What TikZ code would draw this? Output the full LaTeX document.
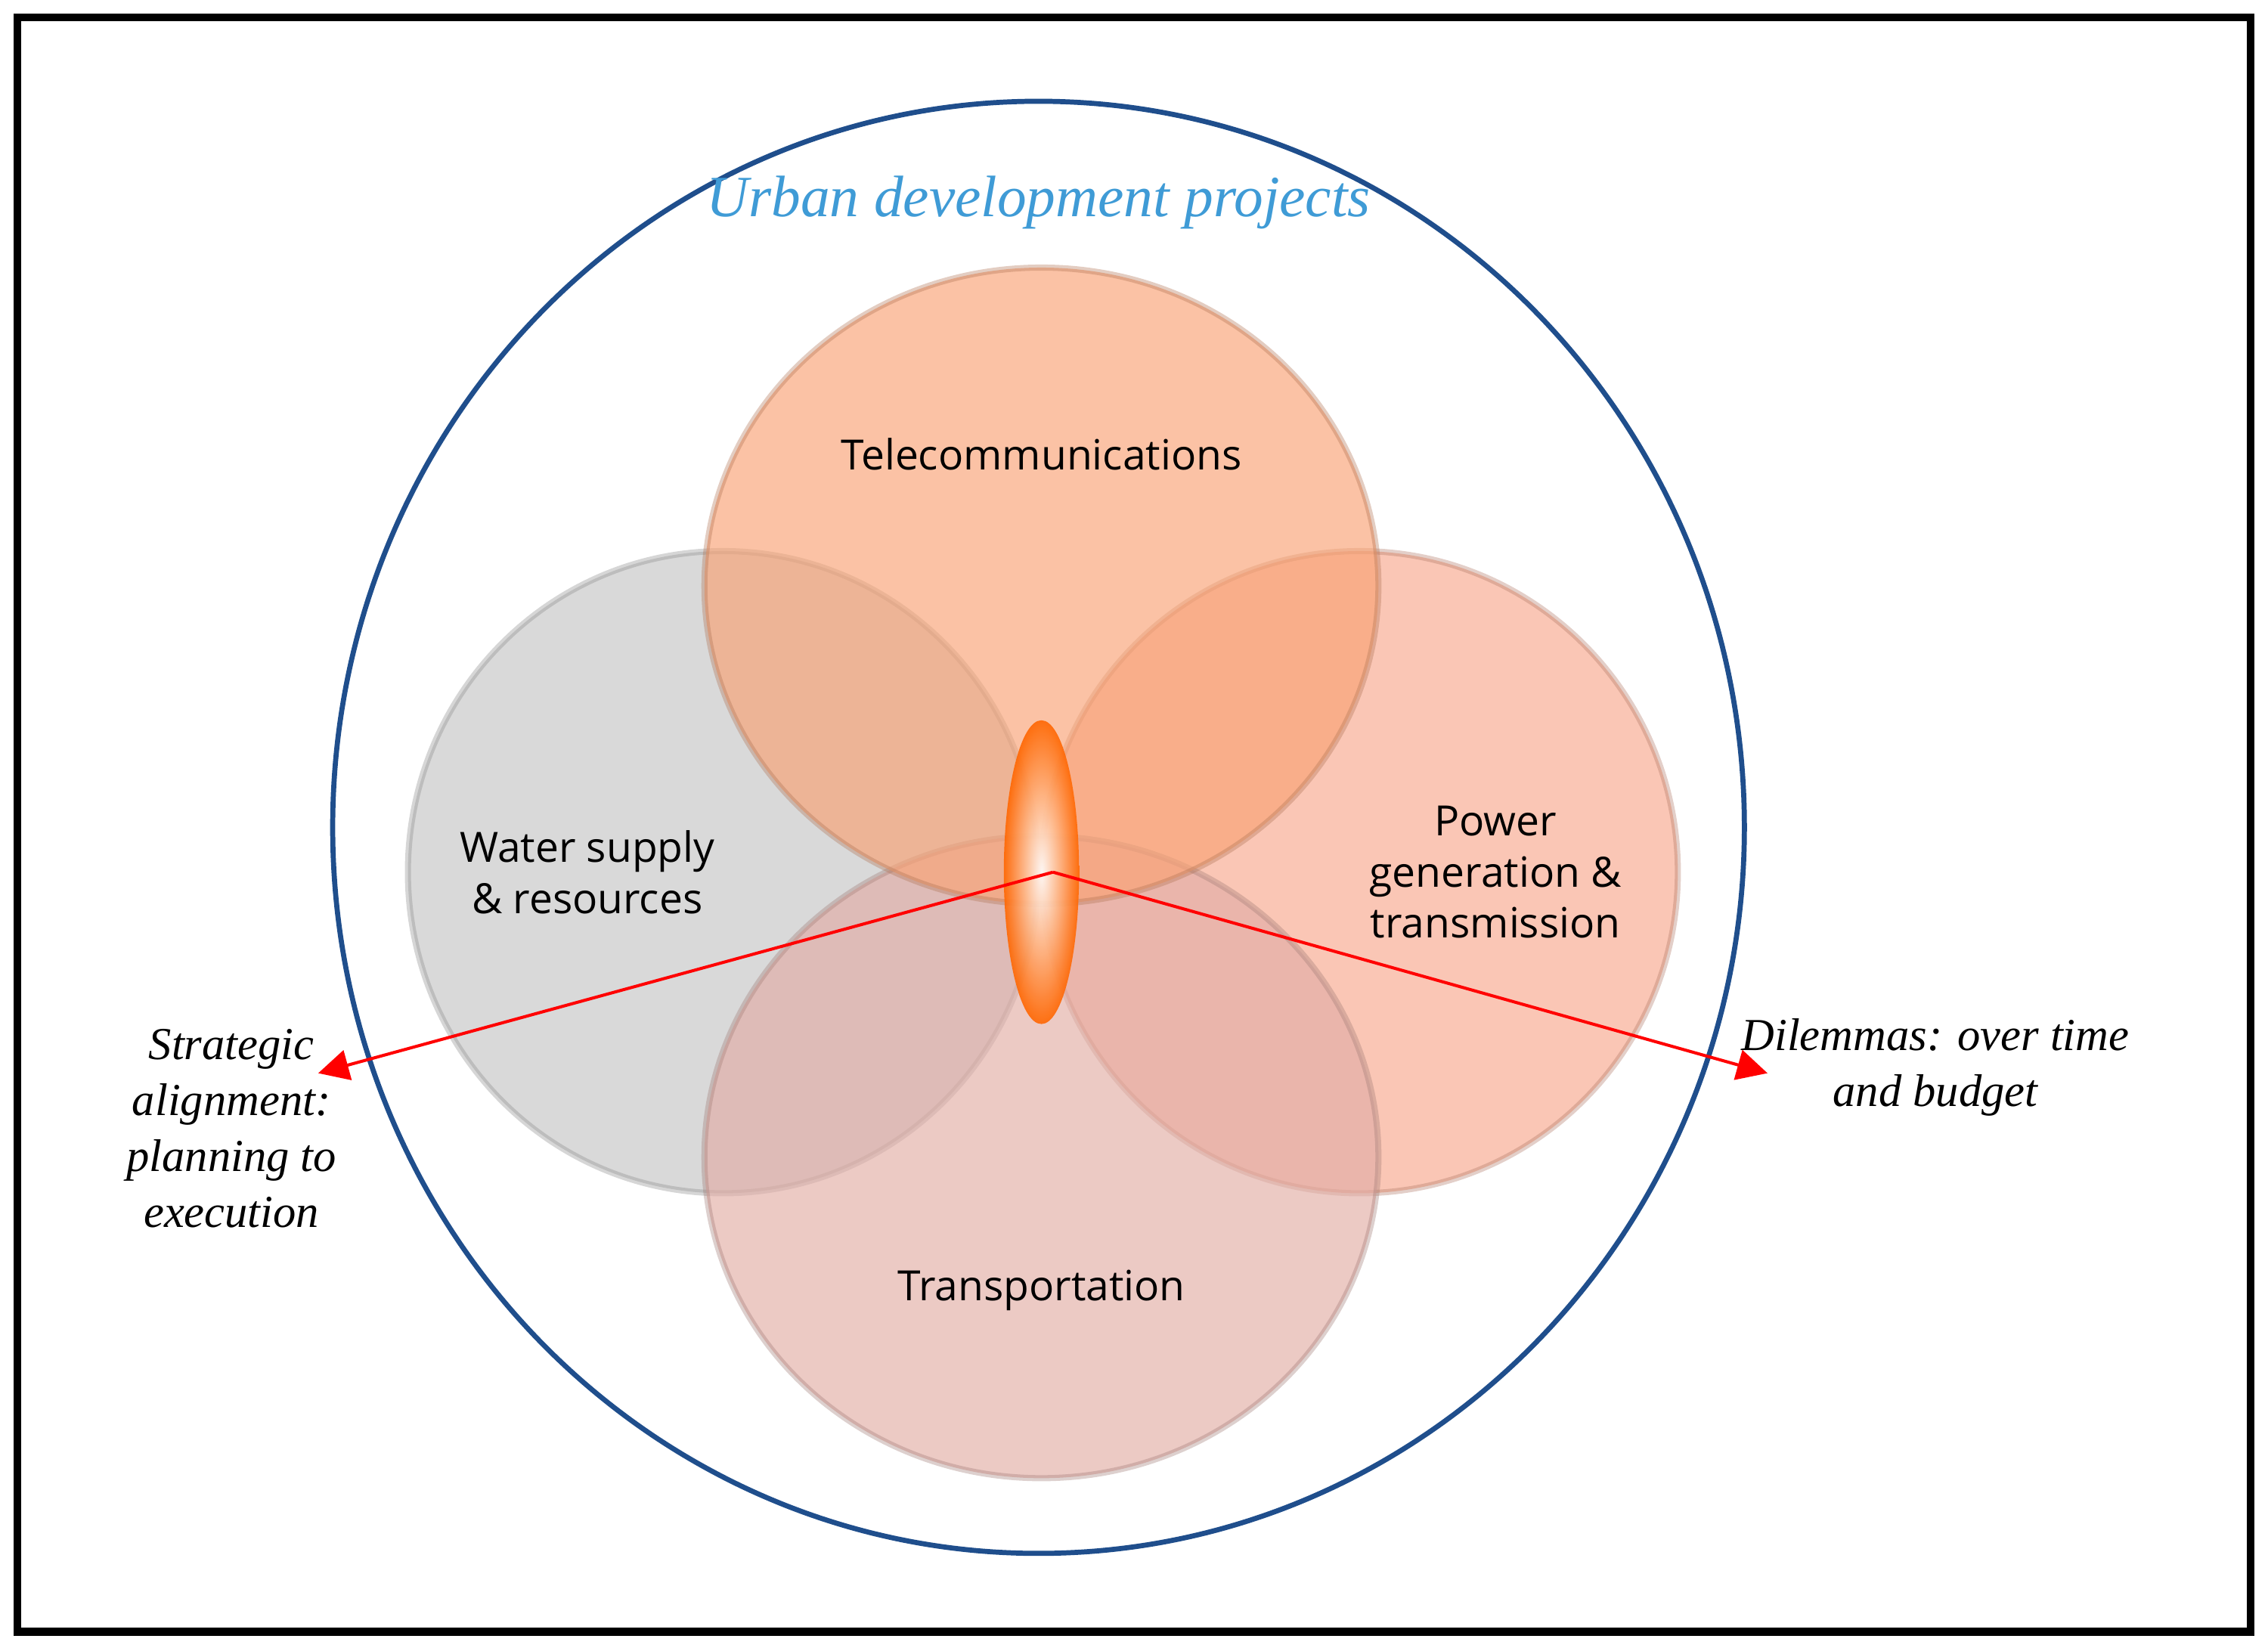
\documentclass[tikz,border=0pt]{standalone}
\usepackage{fontspec}
\setmainfont{Liberation Serif}
\newfontfamily\lblfont{Open Sans}
\usetikzlibrary{positioning}
\usetikzlibrary{arrows.meta}
\definecolor{telecomc}{HTML}{F9A274}
\definecolor{waterc}{HTML}{C4C4C4}
\definecolor{powerc}{HTML}{F8A88E}
\definecolor{transc}{HTML}{E2ADA5}
\definecolor{titlec}{HTML}{3F9BD6}
\definecolor{ringc}{HTML}{1F4E8C}
\tikzset{
  venn/.style = {draw=#1!70!black,draw opacity=0.35,line width=1.2pt,fill=#1,fill opacity=0.65,text opacity=1},
  lbl/.style = {font=\lblfont\fontsize{8.2}{10}\selectfont,align=center,text=black},
  note/.style = {font=\itshape\fontsize{9}{11}\selectfont,align=center},
  arrow/.style = {red,line width=0.6pt,-{Triangle[length=6pt,width=6pt]}}
}
\begin{document}
\begin{tikzpicture}[x=0.01cm,y=-0.01cm]
 \useasboundingbox (0,0) rectangle (1568,1139);
 \draw[line width=1.6pt] (12,12) rectangle (1556,1128);
 \draw[ringc,line width=1pt] (718,572) ellipse [x radius=488,y radius=502];
 \node[font=\itshape\fontsize{11.5}{13}\selectfont,text=titlec] (title) at (718,140) {Urban development projects};
 % four sets
 \fill[venn=waterc] (500,603) ellipse [x radius=218,y radius=222];
 \fill[venn=powerc] (940,603) ellipse [x radius=220,y radius=222];
 \fill[venn=transc] (720,800) ellipse [x radius=233,y radius=222];
 \fill[venn=telecomc] (720,405) ellipse [x radius=233,y radius=220];
 \shade[inner color=white,outer color=orange!80!red,opacity=0.9] (720,603) ellipse [x radius=26,y radius=105];
 \node[lbl] (tel) at (720,314) {Telecommunications};
 \node[lbl] (wat) at (406,603) {Water supply\\\& resources};
 \node[lbl] (pow) at (1034,603) {Power\\generation \&\\transmission};
 \node[lbl] (tra) at (720,892) {Transportation};
 % side notes
 \coordinate (hub) at (728,603);
 \coordinate (ltip) at (220,742);
 \coordinate (rtip) at (1222,742);
 \node[note] (strat) at (160,780) {Strategic\\alignment:\\planning to\\execution};
 \node[note] (dil) at (1338,738) {Dilemmas: over time\\and budget};
 \draw[arrow] (hub) -- (ltip);
 \draw[arrow] (hub) -- (rtip);
\end{tikzpicture}
\end{document}
